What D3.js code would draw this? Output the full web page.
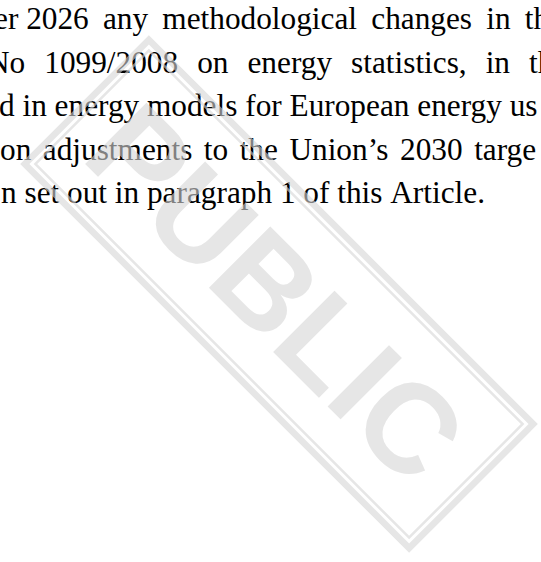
<!DOCTYPE html>
<html><head><meta charset="utf-8">
<script src="https://cdn.jsdelivr.net/npm/d3@7"></script>
<style>html,body{margin:0;padding:0;background:#fff;overflow:hidden}</style>
</head><body>
<svg id="c" width="541" height="562"></svg>
<script>
// Visible (cropped) text lines of the justified paragraph, word by word
const lines = [
  ["er\u00a02026", "any", "methodological", "changes", "in", "th"],
  ["No", "1099/2008", "on", "energy", "statistics,", "in", "th"],
  ["d", "in", "energy", "models", "for", "European", "energy", "us"],
  ["on", "adjustments", "to", "the", "Union\u2019s", "2030", "targe"],
  ["n", "set", "out", "in", "paragraph", "1", "of", "this", "Article."]
];
// start x of first (cropped) word and inter-word gap for each line (justification)
const lineStart = [-6, -13, -1, 0, 1];
const lineGap = [14.2, 19, 7.8, 11.5, 7.8];
const watermarkText = "PUBLIC";

const W = 541, H = 562;
const svg = d3.select("#c");
svg.append("rect").attr("width", W).attr("height", H).attr("fill", "#fff");

const yScale = d3.scaleLinear().domain([0, 4]).range([29, 203]);
const fontSize = 31.3;

const textG = svg.append("g")
  .attr("font-family", "'Liberation Serif','Times New Roman',serif")
  .attr("font-size", fontSize)
  .attr("fill", "#000");

lines.forEach((words, i) => {
  let x = lineStart[i];
  words.forEach(w => {
    const t = textG.append("text").attr("x", x).attr("y", yScale(i)).text(w);
    x += t.node().getComputedTextLength() + lineGap[i];
  });
});

// Watermark on top (rotated frame + text)
const cx = 279, cy = 294, halfL = 275, halfS = 91;
const wm = svg.append("g")
  .attr("transform", `translate(${cx},${cy}) rotate(45)`)
  .attr("opacity", 0.6);
const col = "#d6d6d6";
const band = 6.5, gap = 3, thin = 2.5;
wm.append("rect")
  .attr("x", -halfL + band / 2).attr("y", -halfS + band / 2)
  .attr("width", 2 * halfL - band).attr("height", 2 * halfS - band)
  .attr("fill", "none").attr("stroke", col).attr("stroke-width", band);
const inset = band + gap + thin / 2;
wm.append("rect")
  .attr("x", -halfL + inset).attr("y", -halfS + inset)
  .attr("width", 2 * halfL - 2 * inset).attr("height", 2 * halfS - 2 * inset)
  .attr("fill", "none").attr("stroke", col).attr("stroke-width", thin);
const wmSize = 126;
wm.append("text")
  .attr("x", -3)
  .attr("text-anchor", "middle")
  .attr("y", wmSize * 0.358)
  .attr("font-family", "'Liberation Sans',Arial,sans-serif")
  .attr("font-weight", "bold")
  .attr("font-size", wmSize)
  .attr("fill", col)
  .text(watermarkText);
</script>
</body></html>
